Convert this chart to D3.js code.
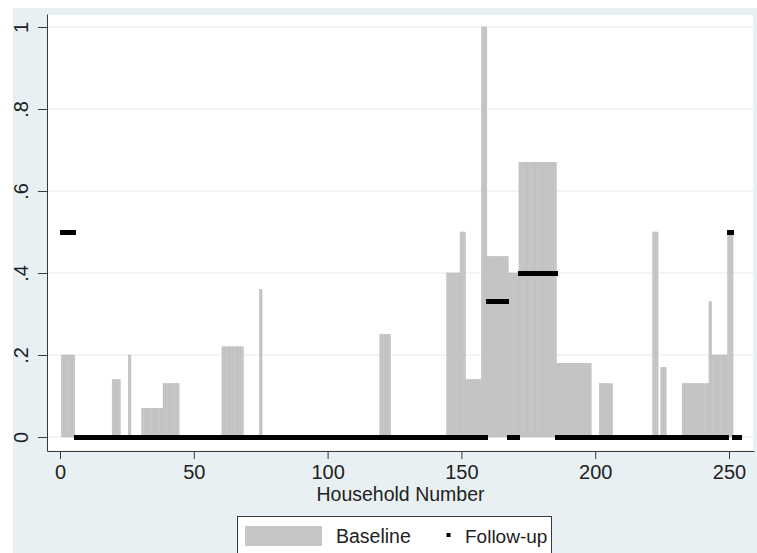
<!DOCTYPE html>
<html lang="en">
<head>
<meta charset="UTF-8">
<title>Baseline vs Follow-up by household</title>
<script src="https://d3js.org/d3.v7.min.js"></script>
<style>
    body { margin: 0; background: #ffffff; }
    svg text { font-family: "Liberation Sans", Arial, sans-serif; fill: #222; }
</style>
</head>
<body>
<svg id="chart"></svg>
<script>
    // household numbers 1..254
    const households = d3.range(1, 255);

    // baseline share per household
    const baseline = [
        0.2, 0.2, 0.2, 0.2, 0.2, 0, 0, 0, 0, 0, 0, 0, 0, 0, 0, 0, 0, 0, 0, 0.14,
        0.14, 0.14, 0, 0, 0, 0.2, 0, 0, 0, 0, 0.07, 0.07, 0.07, 0.07, 0.07, 0.07, 0.07, 0.07, 0.13, 0.13,
        0.13, 0.13, 0.13, 0.13, 0, 0, 0, 0, 0, 0, 0, 0, 0, 0, 0, 0, 0, 0, 0, 0,
        0.22, 0.22, 0.22, 0.22, 0.22, 0.22, 0.22, 0.22, 0, 0, 0, 0, 0, 0, 0.36, 0, 0, 0, 0, 0,
        0, 0, 0, 0, 0, 0, 0, 0, 0, 0, 0, 0, 0, 0, 0, 0, 0, 0, 0, 0,
        0, 0, 0, 0, 0, 0, 0, 0, 0, 0, 0, 0, 0, 0, 0, 0, 0, 0, 0, 0.25,
        0.25, 0.25, 0.25, 0, 0, 0, 0, 0, 0, 0, 0, 0, 0, 0, 0, 0, 0, 0, 0, 0,
        0, 0, 0, 0, 0.4, 0.4, 0.4, 0.4, 0.4, 0.5, 0.5, 0.14, 0.14, 0.14, 0.14, 0.14, 0.14, 1, 1, 0.44,
        0.44, 0.44, 0.44, 0.44, 0.44, 0.44, 0.44, 0.4, 0.4, 0.4, 0.4, 0.67, 0.67, 0.67, 0.67, 0.67, 0.67, 0.67, 0.67, 0.67,
        0.67, 0.67, 0.67, 0.67, 0.67, 0.18, 0.18, 0.18, 0.18, 0.18, 0.18, 0.18, 0.18, 0.18, 0.18, 0.18, 0.18, 0.18, 0, 0,
        0, 0.13, 0.13, 0.13, 0.13, 0.13, 0, 0, 0, 0, 0, 0, 0, 0, 0, 0, 0, 0, 0, 0,
        0, 0.5, 0.5, 0, 0.17, 0.17, 0, 0, 0, 0, 0, 0, 0.13, 0.13, 0.13, 0.13, 0.13, 0.13, 0.13, 0.13,
        0.13, 0.13, 0.33, 0.2, 0.2, 0.2, 0.2, 0.2, 0.2, 0.5, 0.5, 0, 0, 0
    ];

    // follow-up share per household (square markers)
    const followup = [
        0.5, 0.5, 0.5, 0.5, 0.5, 0, 0, 0, 0, 0, 0, 0, 0, 0, 0, 0, 0, 0, 0, 0,
        0, 0, 0, 0, 0, 0, 0, 0, 0, 0, 0, 0, 0, 0, 0, 0, 0, 0, 0, 0,
        0, 0, 0, 0, 0, 0, 0, 0, 0, 0, 0, 0, 0, 0, 0, 0, 0, 0, 0, 0,
        0, 0, 0, 0, 0, 0, 0, 0, 0, 0, 0, 0, 0, 0, 0, 0, 0, 0, 0, 0,
        0, 0, 0, 0, 0, 0, 0, 0, 0, 0, 0, 0, 0, 0, 0, 0, 0, 0, 0, 0,
        0, 0, 0, 0, 0, 0, 0, 0, 0, 0, 0, 0, 0, 0, 0, 0, 0, 0, 0, 0,
        0, 0, 0, 0, 0, 0, 0, 0, 0, 0, 0, 0, 0, 0, 0, 0, 0, 0, 0, 0,
        0, 0, 0, 0, 0, 0, 0, 0, 0, 0, 0, 0, 0, 0, 0, 0, 0, 0, 0, 0.33,
        0.33, 0.33, 0.33, 0.33, 0.33, 0.33, 0.33, 0, 0, 0, 0, 0.4, 0.4, 0.4, 0.4, 0.4, 0.4, 0.4, 0.4, 0.4,
        0.4, 0.4, 0.4, 0.4, 0.4, 0, 0, 0, 0, 0, 0, 0, 0, 0, 0, 0, 0, 0, 0, 0,
        0, 0, 0, 0, 0, 0, 0, 0, 0, 0, 0, 0, 0, 0, 0, 0, 0, 0, 0, 0,
        0, 0, 0, 0, 0, 0, 0, 0, 0, 0, 0, 0, 0, 0, 0, 0, 0, 0, 0, 0,
        0, 0, 0, 0, 0, 0, 0, 0, 0, 0.5, 0.5, 0, 0, 0
    ];

    const xTicks = [0, 50, 100, 150, 200, 250];
    const yTicks = [0, 0.2, 0.4, 0.6, 0.8, 1];
    const seriesNames = ["Baseline", "Follow-up"];

    const W = 757, H = 553;
    const plot = { left: 47, top: 14, right: 754, bottom: 451 };
    const barFill = "#c6c6c6";
    const bgColor = "#e9f0f3";
    const gridColor = "#e3ecef";

    const svg = d3.select("#chart").attr("width", W).attr("height", H);

    // graph region
    svg.append("rect").attr("x", 13).attr("y", 8).attr("width", W - 13).attr("height", H - 8)
        .attr("fill", bgColor);
    svg.append("rect").attr("x", plot.left).attr("y", plot.top)
        .attr("width", plot.right - plot.left).attr("height", plot.bottom - plot.top)
        .attr("fill", "#fff").attr("stroke", gridColor).attr("stroke-width", 1);

    const x = d3.scaleLinear().domain([-4.86, 259.34]).range([plot.left, plot.right]);
    const y = d3.scaleLinear().domain([-0.0341, 1.0317]).range([plot.bottom, plot.top]);

    // grid lines
    svg.append("g").selectAll("line").data(yTicks).enter().append("line")
        .attr("x1", plot.left).attr("x2", plot.right)
        .attr("y1", d => y(d)).attr("y2", d => y(d))
        .attr("stroke", gridColor).attr("stroke-width", 1.2);

    // baseline bars
    const rows = households.map((h, i) => ({ h: h, b: baseline[i], f: followup[i] }));
    svg.append("g").selectAll("rect").data(rows.filter(d => d.b > 0)).enter().append("rect")
        .attr("x", d => x(d.h - 0.5))
        .attr("width", d => x(d.h + 0.5) - x(d.h - 0.5))
        .attr("y", d => y(d.b))
        .attr("height", d => y(0) - y(d.b))
        .attr("fill", barFill)
        .attr("stroke", "#b9b9b9").attr("stroke-width", 0.5);

    // follow-up markers
    const ms = 5;
    svg.append("g").attr("shape-rendering", "crispEdges")
        .selectAll("rect").data(rows).enter().append("rect")
        .attr("x", d => x(d.h) - ms / 2)
        .attr("y", d => y(d.f) - ms / 2)
        .attr("width", ms).attr("height", ms)
        .attr("fill", "#000");

    // axes
    const xAxis = svg.append("g")
        .attr("transform", "translate(0," + plot.bottom + ")")
        .call(d3.axisBottom(x).tickValues(xTicks).tickSize(8).tickSizeOuter(0).tickPadding(6));
    xAxis.selectAll("text").style("font-size", "20px").attr("dy", "0.71em");

    const yAxis = svg.append("g")
        .attr("transform", "translate(" + plot.left + ",0)")
        .call(d3.axisLeft(y).tickValues(yTicks).tickSize(9).tickSizeOuter(0)
            .tickFormat(d => d === 0 ? "0" : d === 1 ? "1" : d3.format(".1f")(d).replace(/^0/, "")));
    yAxis.selectAll("text")
        .style("font-size", "20px")
        .attr("transform", "rotate(-90)")
        .attr("text-anchor", "middle")
        .attr("x", 0).attr("y", -19).attr("dy", 0);

    [xAxis, yAxis].forEach(a => {
        a.select(".domain").attr("stroke", "#3a3a3a");
        a.selectAll(".tick line").attr("stroke", "#3a3a3a");
    });

    // axis title
    svg.append("text")
        .attr("x", (x(0) + x(250)) / 2 + 6).attr("y", 501)
        .attr("text-anchor", "middle")
        .style("font-size", "19.5px")
        .text("Household Number");

    // legend
    const lg = svg.append("g");
    lg.append("rect").attr("x", 237.5).attr("y", 516.5).attr("width", 314).attr("height", 45)
        .attr("fill", "#fff").attr("stroke", "#3a3a3a").attr("stroke-width", 1);
    lg.append("rect").attr("x", 245).attr("y", 526).attr("width", 77).attr("height", 20)
        .attr("fill", barFill);
    lg.append("text").attr("x", 336).attr("y", 542.5).style("font-size", "19.5px").text(seriesNames[0]);
    lg.append("rect").attr("x", 446.5).attr("y", 533).attr("width", 4).attr("height", 4).attr("fill", "#000");
    lg.append("text").attr("x", 465).attr("y", 542.5).style("font-size", "19px").text(seriesNames[1]);
</script>
</body>
</html>
